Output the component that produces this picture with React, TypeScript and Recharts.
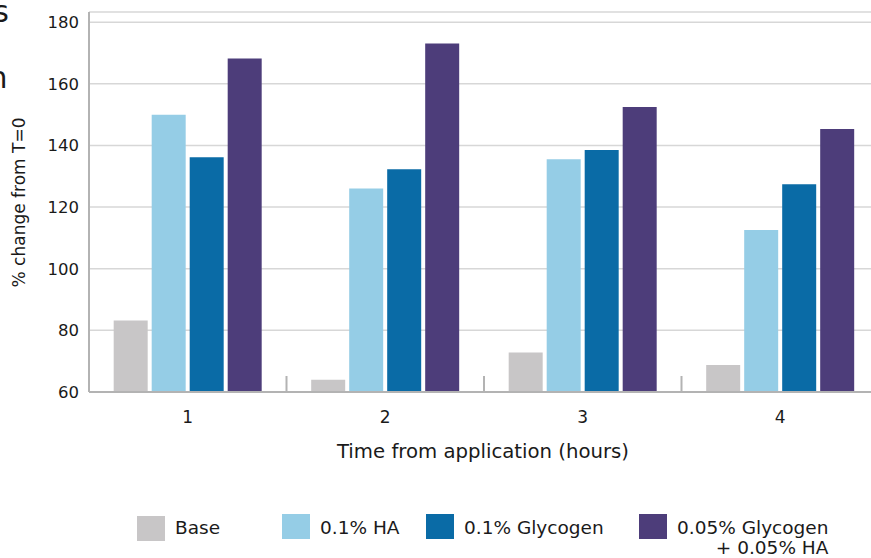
import React from 'react';
import { BarChart, Bar, XAxis, YAxis, CartesianGrid, Legend } from 'recharts';

const FONT = '"DejaVu Sans", "Open Sans", sans-serif';
const TEXT = '#1a1a1a';
const AXIS = '#b3b3b3';

const categories = ['1', '2', '3', '4'];
const seriesNames = ['Base', '0.1% HA', '0.1% Glycogen', '0.05% Glycogen + 0.05% HA'];
const baseValues = [83.2, 64.0, 72.8, 68.8];
const haValues = [150.0, 126.0, 135.5, 112.6];
const glycogenValues = [136.2, 132.3, 138.5, 127.4];
const comboValues = [168.2, 173.1, 152.5, 145.3];
const yTicks = [60, 80, 100, 120, 140, 160, 180];
const seriesColors = ['#c8c6c7', '#95cde6', '#0a6ba6', '#4d3d7a'];
const seriesKeys = ['base', 'ha', 'gly', 'combo'];
const yTitle = '% change from T=0';
const xTitle = 'Time from application (hours)';

// layout only
const legendLeft = [137, 282, 426, 639];

const data = categories.map((c, i) => ({
  cat: c,
  base: baseValues[i],
  ha: haValues[i],
  gly: glycogenValues[i],
  combo: comboValues[i],
}));

const XTick = (props: any) => {
  const { x, y, payload } = props;
  const half =
    payload && typeof payload.offset === 'number' && payload.offset > 0 ? payload.offset : 98.75;
  return (
    <g>
      <line x1={x - half} x2={x - half} y1={y} y2={y - 16} stroke={AXIS} strokeWidth={2} />
      <text x={x} y={y + 30.5} textAnchor="middle" fontSize={17} fill={TEXT} fontFamily={FONT}>
        {payload.value}
      </text>
    </g>
  );
};

const renderLegend = (props: any) => {
  const payload = [...(props.payload || [])].sort(
    (a: any, b: any) => seriesNames.indexOf(String(a.value)) - seriesNames.indexOf(String(b.value))
  );
  return (
    <div style={{ position: 'relative', width: 871, height: 44, fontFamily: FONT }}>
      {payload.map((p: any, i: number) => {
        const parts = String(p.value).split(' + ');
        return (
          <div
            key={i}
            style={{
              position: 'absolute',
              left: legendLeft[i],
              top: 0,
              display: 'flex',
              alignItems: 'flex-start',
            }}
          >
            <div style={{ width: 28, height: 25, background: p.color, marginTop: i === 0 ? 1.5 : 0 }} />
            <div
              style={{
                marginLeft: 10,
                marginTop: 3.5,
                fontSize: 18.5,
                lineHeight: '20px',
                color: TEXT,
                textAlign: 'right',
                whiteSpace: 'nowrap',
              }}
            >
              <div>{parts[0]}</div>
              {parts[1] ? <div>{'+ ' + parts[1]}</div> : null}
            </div>
          </div>
        );
      })}
    </div>
  );
};

export default function App() {
  return (
    <div
      style={{
        position: 'absolute',
        left: 0,
        top: 0,
        width: 871,
        height: 558,
        overflow: 'hidden',
        background: '#ffffff',
      }}
    >
      <BarChart
        width={900}
        height={558}
        data={data}
        margin={{ top: 12, right: 21, left: 0, bottom: 136 }}
        barCategoryGap="12.5%"
        barGap={4}
      >
        <CartesianGrid horizontal vertical={false} stroke="#d7d7d7" strokeWidth={1.5} />
        <XAxis
          dataKey="cat"
          height={30}
          tickSize={0}
          tickMargin={0}
          tickLine={false}
          axisLine={{ stroke: AXIS, strokeWidth: 2 }}
          tick={<XTick />}
          interval={0}
        />
        <YAxis
          width={89}
          domain={[60, 183.3]}
          ticks={yTicks}
          allowDataOverflow
          tickLine={false}
          tickSize={0}
          tickMargin={10}
          axisLine={{ stroke: AXIS, strokeWidth: 2 }}
          tick={{ fontSize: 16.5, fill: TEXT, fontFamily: FONT }}
        />
        <Legend
          layout="horizontal"
          verticalAlign="middle"
          align="center"
          content={renderLegend}
          wrapperStyle={{ left: 0, top: 514, width: 871, height: 44 }}
        />
        {seriesKeys.map((k, i) => (
          <Bar key={k} dataKey={k} name={seriesNames[i]} fill={seriesColors[i]} isAnimationActive={false} />
        ))}
      </BarChart>
      <svg
        width={871}
        height={558}
        style={{ position: 'absolute', left: 0, top: 0, pointerEvents: 'none' }}
      >
        <text x={-6.7} y={22} fontSize={30} fill={TEXT} fontFamily={FONT}>
          s
        </text>
        <text x={-11.4} y={88} fontSize={30} fill={TEXT} fontFamily={FONT}>
          n
        </text>
        <text
          transform="translate(25, 202.5) rotate(-90)"
          textAnchor="middle"
          fontSize={17}
          fill={TEXT}
          fontFamily={FONT}
        >
          {yTitle}
        </text>
        <text x={483} y={458} textAnchor="middle" fontSize={19.7} fill={TEXT} fontFamily={FONT}>
          {xTitle}
        </text>
      </svg>
    </div>
  );
}
